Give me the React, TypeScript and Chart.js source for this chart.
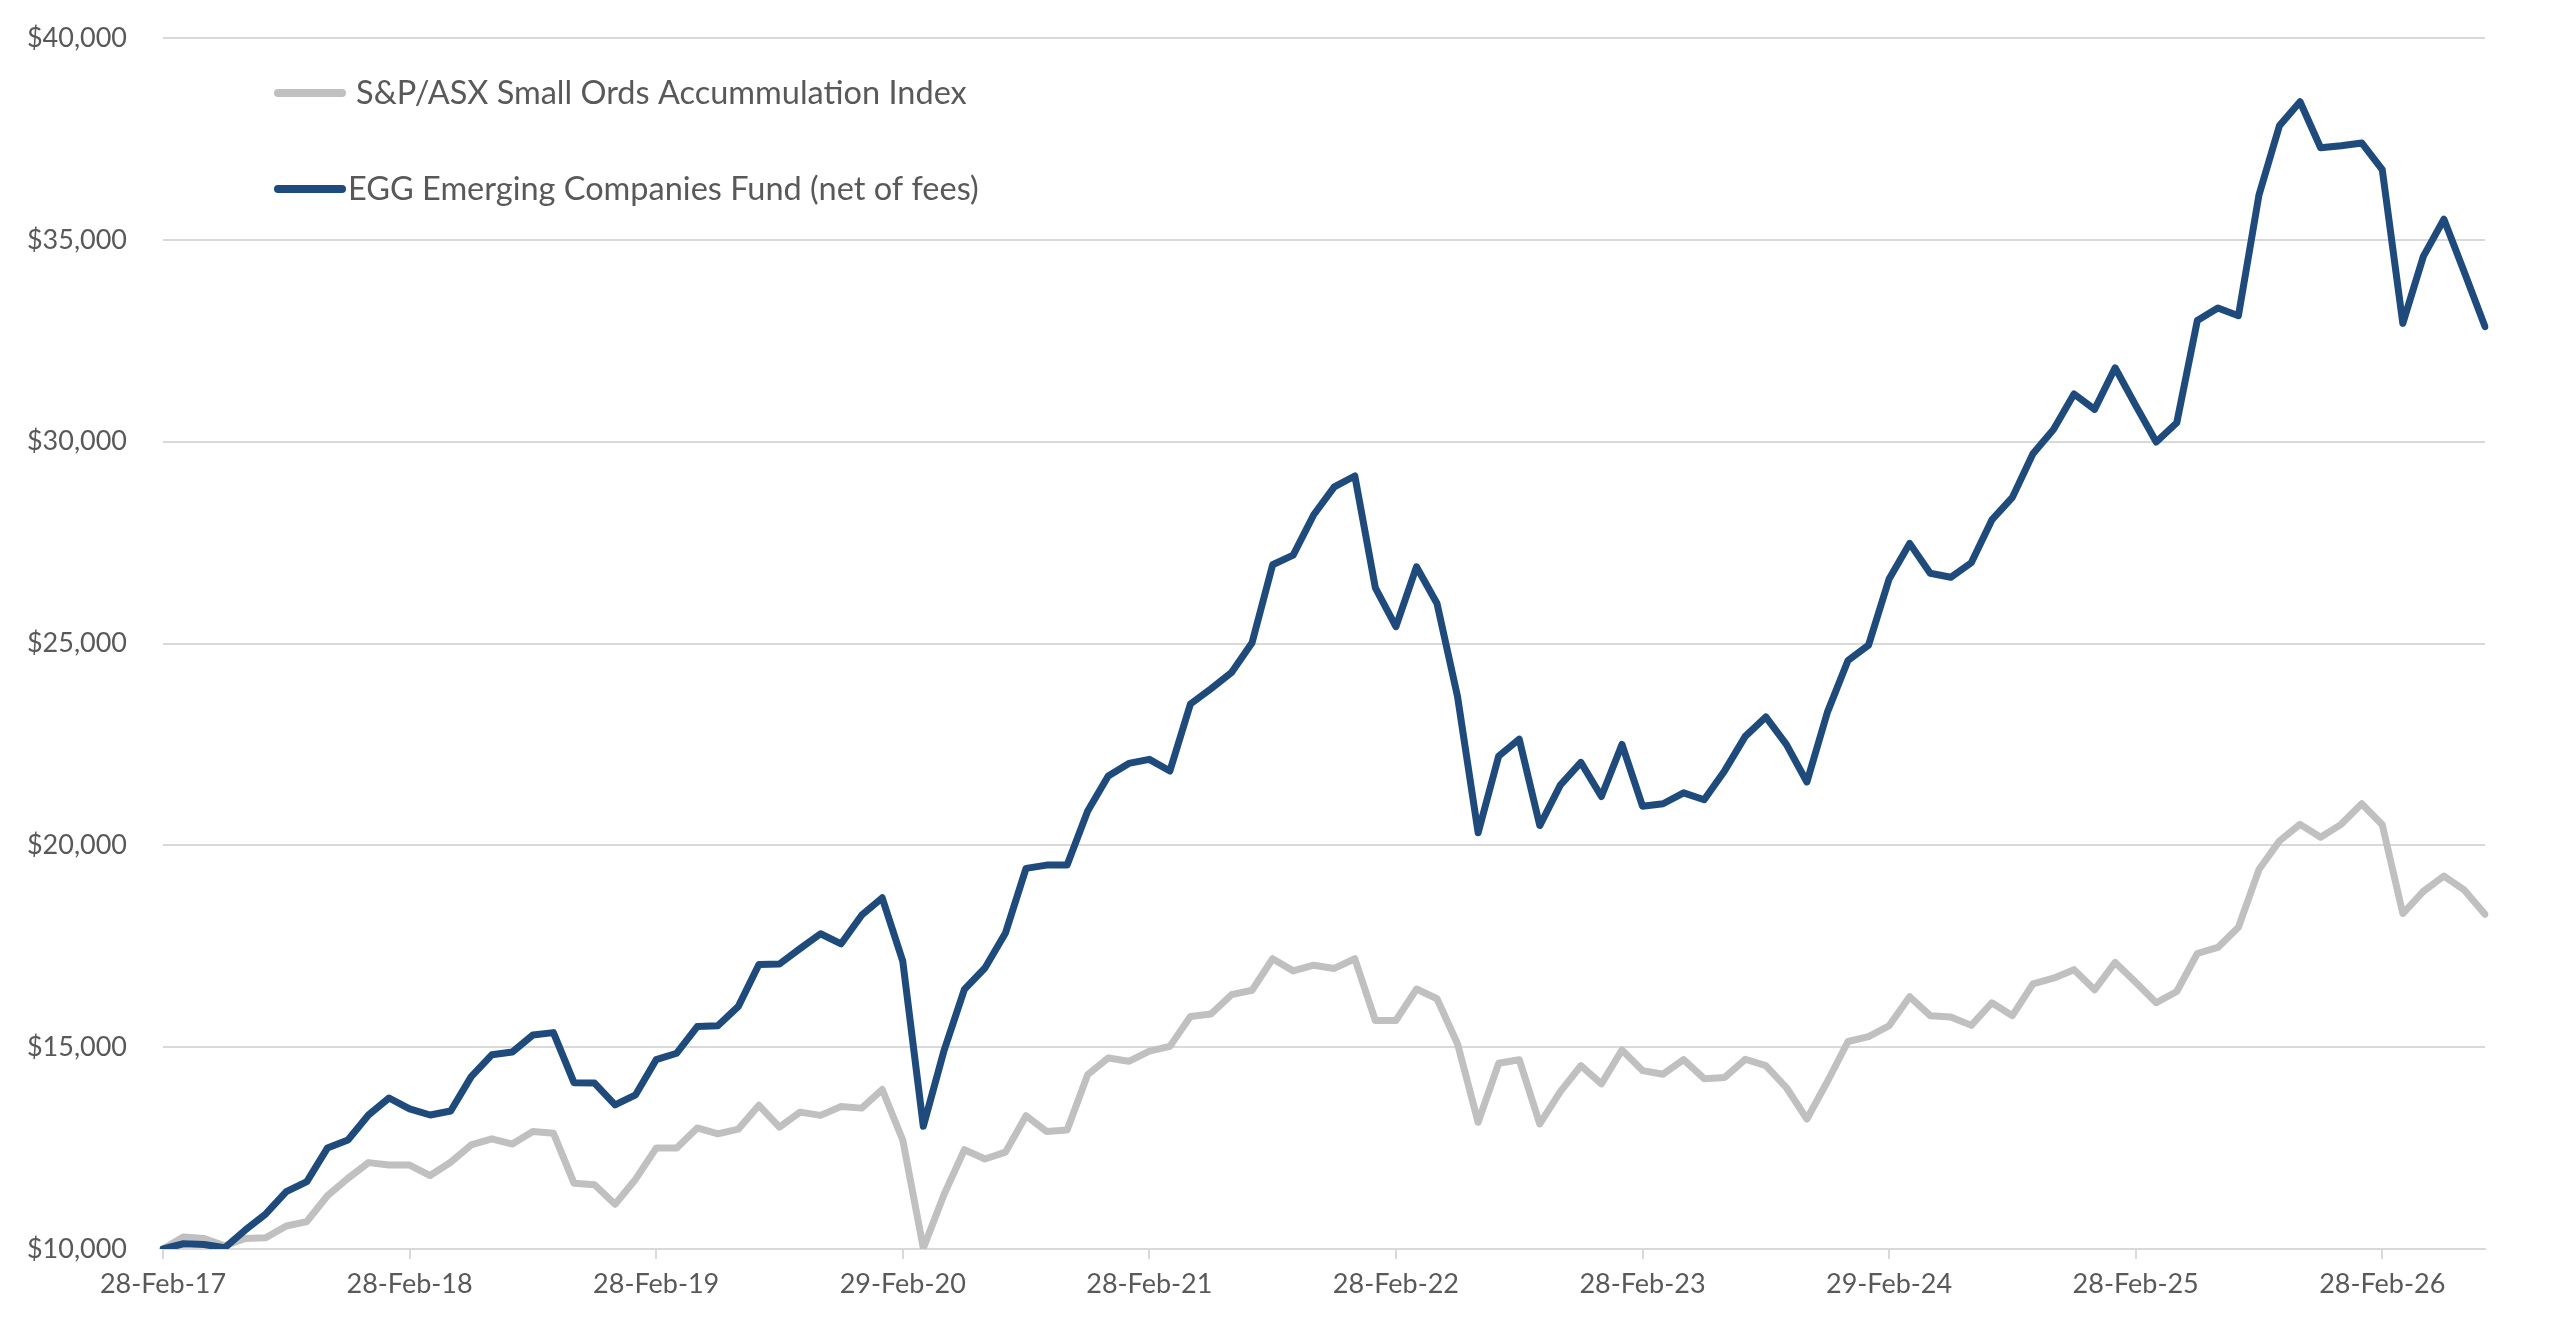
import { useEffect, useRef } from "react";
import { Chart, ChartConfiguration, registerables } from "chart.js";

Chart.register(...registerables);

// --- data -------------------------------------------------------------
const START_YEAR = 2017;
const MONTH_COUNT = 114; // Feb-17 .. Jul-26, month ends
const MONTH_NAMES = ["Jan", "Feb", "Mar", "Apr", "May", "Jun", "Jul", "Aug", "Sep", "Oct", "Nov", "Dec"];

const categories: string[] = [];
for (let i = 0; i < MONTH_COUNT; i++) {
  const m = (1 + i) % 12;
  const y = START_YEAR + Math.floor((1 + i) / 12);
  const day = new Date(y, m + 1, 0).getDate();
  categories.push(`${day}-${MONTH_NAMES[m]}-${String(y).slice(2)}`);
}

const xTickLabels = [
  "28-Feb-17", "28-Feb-18", "28-Feb-19", "29-Feb-20", "28-Feb-21",
  "28-Feb-22", "28-Feb-23", "29-Feb-24", "28-Feb-25", "28-Feb-26",
];

const yTickValues = [10000, 15000, 20000, 25000, 30000, 35000, 40000];

const seriesNames = [
  "S&P/ASX Small Ords Accummulation Index",
  "EGG Emerging Companies Fund (net of fees)",
];

const indexValues = [
  10000, 10300, 10260, 10080, 10260, 10280, 10570, 10680, 11320, 11750, 12140, 12080,
  12080, 11820, 12150, 12580, 12730, 12600, 12910, 12870, 11630, 11590, 11110, 11730,
  12500, 12500, 13000, 12850, 12970, 13560, 13020, 13390, 13310, 13530, 13490, 13950,
  12700, 10020, 11340, 12460, 12230, 12400, 13300, 12910, 12950, 14320, 14730, 14650,
  14900, 15020, 15760, 15820, 16300, 16410, 17190, 16890, 17030, 16950, 17190, 15660,
  15660, 16440, 16200, 15080, 13140, 14600, 14690, 13100, 13900, 14540, 14090, 14930,
  14420, 14330, 14690, 14220, 14250, 14700, 14545, 14000, 13220, 14150, 15140, 15260,
  15530, 16250, 15780, 15750, 15540, 16100, 15780, 16570, 16710, 16920, 16420, 17100,
  16610, 16100, 16380, 17320, 17470, 17970, 19400, 20110, 20520, 20200, 20520, 21030,
  20510, 18310, 18860, 19240, 18890, 18290,
];

const fundValues = [
  10000, 10130, 10110, 10030, 10470, 10870, 11420, 11670, 12500, 12700, 13320, 13740,
  13470, 13320, 13420, 14270, 14810, 14880, 15300, 15360, 14120, 14110, 13570, 13820,
  14690, 14850, 15510, 15530, 16010, 17050, 17060, 17440, 17810, 17560, 18270, 18700,
  17130, 13040, 14900, 16430, 16960, 17830, 19430, 19510, 19510, 20850, 21720, 22030,
  22130, 21840, 23500, 23880, 24280, 25020, 26950, 27190, 28190, 28880, 29150, 26380,
  25420, 26900, 25990, 23680, 20310, 22210, 22630, 20490, 21490, 22055, 21210, 22500,
  20970, 21030, 21300, 21130, 21850, 22700, 23180, 22500, 21570, 23300, 24580, 24960,
  26600, 27480, 26740, 26640, 27000, 28060, 28620, 29700, 30300, 31180, 30800, 31830,
  30900, 29990, 30470, 33000, 33310, 33120, 36110, 37830, 38420, 37280, 37330, 37400,
  36740, 32930, 34590, 35510, 34190, 32850,
];

// --- styles -----------------------------------------------------------
const GREY_LINE = "#c0c0c0";
const BLUE_LINE = "#1f4a7c";
const TEXT = "#595959";
const GRID = "#d9d9d9";
const FONT = "Lato, 'Open Sans', sans-serif";

const insideLegend = {
  id: "insideLegend",
  afterDraw(chart: Chart) {
    const { ctx } = chart;
    const rows = [
      { color: GREY_LINE, y: 93, textX: 356 },
      { color: BLUE_LINE, y: 189, textX: 348 },
    ];
    ctx.save();
    ctx.font = `32.5px ${FONT}`;
    ctx.textBaseline = "middle";
    ctx.lineCap = "round";
    rows.forEach((r, i) => {
      ctx.strokeStyle = r.color;
      ctx.lineWidth = 8;
      ctx.beginPath();
      ctx.moveTo(278, r.y);
      ctx.lineTo(342, r.y);
      ctx.stroke();
      ctx.fillStyle = TEXT;
      ctx.fillText(seriesNames[i], r.textX, r.y + 1);
    });
    ctx.restore();
  },
};

export default function App() {
  const canvasRef = useRef<HTMLCanvasElement>(null);
  const chartRef = useRef<Chart | null>(null);

  useEffect(() => {
    document.body.style.margin = "0";
    if (!canvasRef.current) return;
    if (chartRef.current) chartRef.current.destroy();

    const config: ChartConfiguration = {
      type: "line",
      data: {
        labels: categories,
        datasets: [
          {
            label: seriesNames[0],
            data: indexValues,
            borderColor: GREY_LINE,
            borderWidth: 7,
            pointRadius: 0,
            tension: 0,
            borderJoinStyle: "round",
            borderCapStyle: "round",
            order: 1,
          },
          {
            label: seriesNames[1],
            data: fundValues,
            borderColor: BLUE_LINE,
            borderWidth: 7,
            pointRadius: 0,
            tension: 0,
            borderJoinStyle: "round",
            borderCapStyle: "round",
            order: 0,
          },
        ],
      },
      options: {
        responsive: true,
        maintainAspectRatio: false,
        animation: false,
        layout: { padding: { top: 38, right: 75, bottom: 0, left: 0 } },
        plugins: {
          legend: { display: false },
          tooltip: { enabled: false },
        },
        scales: {
          x: {
            type: "category",
            offset: false,
            afterFit: (scale: any) => {
              scale.height = 80;
            },
            afterBuildTicks: (scale: any) => {
              scale.ticks = scale.ticks.filter((t: any) => xTickLabels.includes(categories[t.value]));
            },
            grid: {
              drawOnChartArea: false,
              drawTicks: true,
              tickLength: 10,
              color: GRID,
              lineWidth: 2,
            },
            border: { display: true, color: GRID, width: 2 },
            ticks: {
              autoSkip: false,
              maxRotation: 0,
              padding: 9,
              color: TEXT,
              font: { family: FONT, size: 27 },
              callback: (value: any) => categories[value as number],
            },
          },
          y: {
            min: yTickValues[0],
            max: yTickValues[yTickValues.length - 1],
            afterFit: (scale: any) => {
              scale.width = 163;
              scale.paddingTop = 16;
              scale.paddingBottom = 16;
            },
            afterBuildTicks: (scale: any) => {
              scale.ticks = yTickValues.map((v) => ({ value: v }));
            },
            grid: {
              drawTicks: false,
              color: GRID,
              lineWidth: 2,
            },
            border: { display: false },
            ticks: {
              padding: 36,
              color: TEXT,
              font: { family: FONT, size: 27 },
              callback: (value: any) => "$" + Number(value).toLocaleString("en-US"),
            },
          },
        },
      },
      plugins: [insideLegend],
    };

    chartRef.current = new Chart(canvasRef.current, config);

    return () => {
      if (chartRef.current) {
        chartRef.current.destroy();
        chartRef.current = null;
      }
    };
  }, []);

  return (
    <div style={{ position: "fixed", left: 0, top: 0, width: "100vw", height: "100vh", background: "#fff" }}>
      <canvas ref={canvasRef} />
    </div>
  );
}
